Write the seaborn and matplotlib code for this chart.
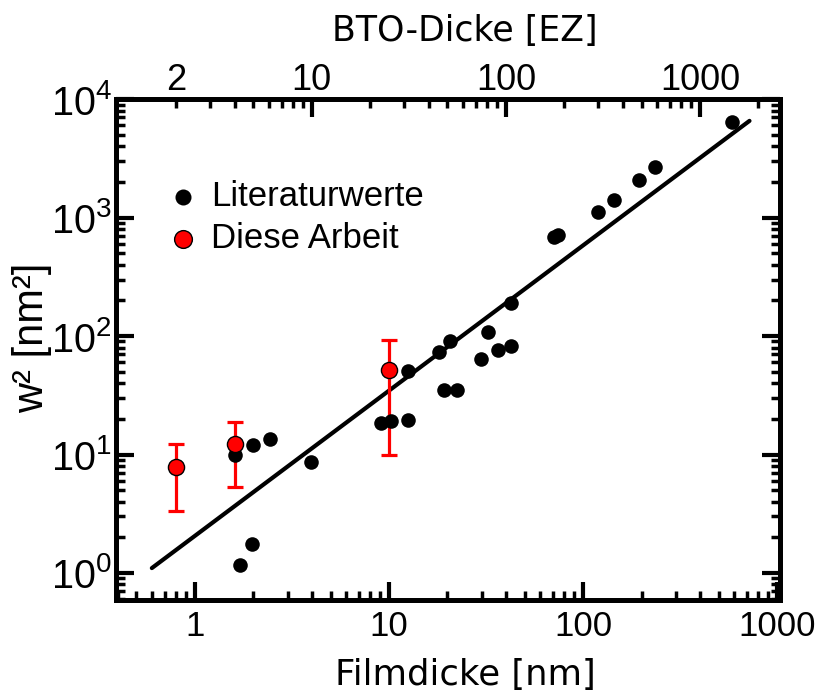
import matplotlib
matplotlib.use("Agg")
import matplotlib.pyplot as plt
import matplotlib.ticker as mticker
import numpy as np
import pandas as pd
import seaborn as sns

# Literature values: film thickness [nm] and squared domain-wall width w^2 [nm^2]
lit_thickness = [1.6, 2.0, 2.45, 3.96, 1.98, 1.70, 9.1, 10.3, 12.6, 12.5,
                 18.1, 20.5, 19.3, 22.5, 29.9, 32.3, 36.4, 42.3, 42.6,
                 70.5, 74.0, 120, 144, 195, 236, 585]
lit_w2 = [10.0, 12.0, 13.4, 8.7, 1.75, 1.17, 18.5, 19.2, 19.5, 50.3,
          74.0, 91.0, 35.3, 35.3, 64.4, 108, 76.7, 189, 81.7,
          680, 715, 1107, 1407, 2074, 2684, 6430]

# Own measurements with lower / upper error bounds
own_thickness = [0.8, 1.6, 10.0]
own_w2 = [7.9, 12.2, 51.3]
own_w2_low = [3.35, 5.27, 10.0]
own_w2_high = [12.2, 18.8, 93.0]

# Power-law fit line end points
fit_thickness = [0.6, 720]
fit_w2 = [1.10, 6550]

# BTO lattice constant used for the unit-cell (EZ) axis
lattice_nm = 0.4

sns.set_theme(style="ticks")
plt.rcParams["font.family"] = ["Liberation Sans", "DejaVu Sans"]
plt.rcParams["mathtext.fontset"] = "custom"
plt.rcParams["mathtext.rm"] = "Liberation Sans"
plt.rcParams["mathtext.it"] = "Liberation Sans:italic"
plt.rcParams["mathtext.bf"] = "Liberation Sans:bold"
for key in ("text.color", "axes.labelcolor", "xtick.color", "ytick.color",
            "axes.edgecolor"):
    plt.rcParams[key] = "black"

fig = plt.figure(figsize=(8.26, 6.93), dpi=100)
ax = fig.add_axes([0.1404, 0.134, 0.804, 0.723])

lit_df = pd.DataFrame({"d": lit_thickness, "w2": lit_w2})
own_df = pd.DataFrame({"d": own_thickness, "w2": own_w2})

ax.plot(fit_thickness, fit_w2, color="black", lw=3.0, zorder=2)

yerr = np.array([np.array(own_w2) - np.array(own_w2_low),
                 np.array(own_w2_high) - np.array(own_w2)])
ax.errorbar(own_thickness, own_w2, yerr=yerr, fmt="none", ecolor="red",
            elinewidth=2.3, capsize=5.5, capthick=2.3, zorder=3)

sns.scatterplot(data=lit_df, x="d", y="w2", ax=ax, color="black", s=110,
                edgecolor="black", linewidth=0, label="Literaturwerte", zorder=4)
sns.scatterplot(data=own_df, x="d", y="w2", ax=ax, color="red", s=135,
                edgecolor="black", linewidth=1.0, label="Diese Arbeit", zorder=5)

ax.set_xscale("log")
ax.set_yscale("log")
ax.set_xlim(0.392, 1035)
ax.set_ylim(0.59, 1e4)

ax.set_xlabel("Filmdicke [nm]", fontsize=25.5, family=["DejaVu Sans"])
ax.xaxis.set_label_coords(0.526, -0.115)
ax.set_ylabel("w² [nm²]", fontsize=30)
ax.yaxis.set_label_coords(-0.096, 0.523)

ax.xaxis.set_major_locator(mticker.LogLocator(base=10, numticks=10))
ax.xaxis.set_major_formatter(mticker.FuncFormatter(lambda v, p: f"{v:g}"))
ax.xaxis.set_minor_locator(mticker.LogLocator(base=10, subs=np.arange(2, 10), numticks=20))
ax.xaxis.set_minor_formatter(mticker.NullFormatter())
ax.yaxis.set_major_locator(mticker.LogLocator(base=10, numticks=10))
ax.yaxis.set_minor_locator(mticker.LogLocator(base=10, subs=np.arange(2, 10), numticks=20))
ax.yaxis.set_minor_formatter(mticker.NullFormatter())

ax.tick_params(axis="both", which="major", direction="in", length=13, width=3,
               color="black", top=False, right=True)
ax.tick_params(axis="both", which="minor", direction="in", length=6.5, width=2.5,
               color="black", top=False, right=True)
ax.tick_params(axis="x", which="major", labelsize=25, pad=7)
ax.tick_params(axis="y", which="major", labelsize=28.5, pad=3)

for sp in ax.spines.values():
    sp.set_linewidth(3.5)
    sp.set_color("black")

# Top axis in BTO unit cells
ax2 = ax.twiny()
ax2.set_xscale("log")
ax2.set_xlim(ax.get_xlim()[0] / lattice_nm, ax.get_xlim()[1] / lattice_nm)
ax2.xaxis.set_major_locator(mticker.FixedLocator([10, 100, 1000]))
ax2.xaxis.set_major_formatter(mticker.FuncFormatter(lambda v, p: f"{v:g}"))
ax2.xaxis.set_minor_locator(mticker.LogLocator(base=10, subs=np.arange(2, 10), numticks=20))
ax2.xaxis.set_minor_formatter(
    mticker.FuncFormatter(lambda v, p: "2" if abs(v - 2) < 1e-6 else ""))
ax2.tick_params(axis="x", which="major", direction="in", length=13, width=3,
                labelsize=26, pad=1)
ax2.tick_params(axis="x", which="minor", direction="in", length=6.5, width=2.5,
                labelsize=26, pad=1)
ax2.set_xlabel("BTO-Dicke [EZ]", fontsize=25, family=["DejaVu Sans"])
ax2.xaxis.set_label_coords(0.526, 1.115)
for sp in ax2.spines.values():
    sp.set_linewidth(3.5)

leg = ax.legend(loc="upper left", bbox_to_anchor=(0.054, 0.866), frameon=False,
                fontsize=25, handletextpad=0.3, labelspacing=0.25,
                borderaxespad=0, handlelength=1.0, markerscale=1.1)

fig.savefig("out.png", dpi=100)
